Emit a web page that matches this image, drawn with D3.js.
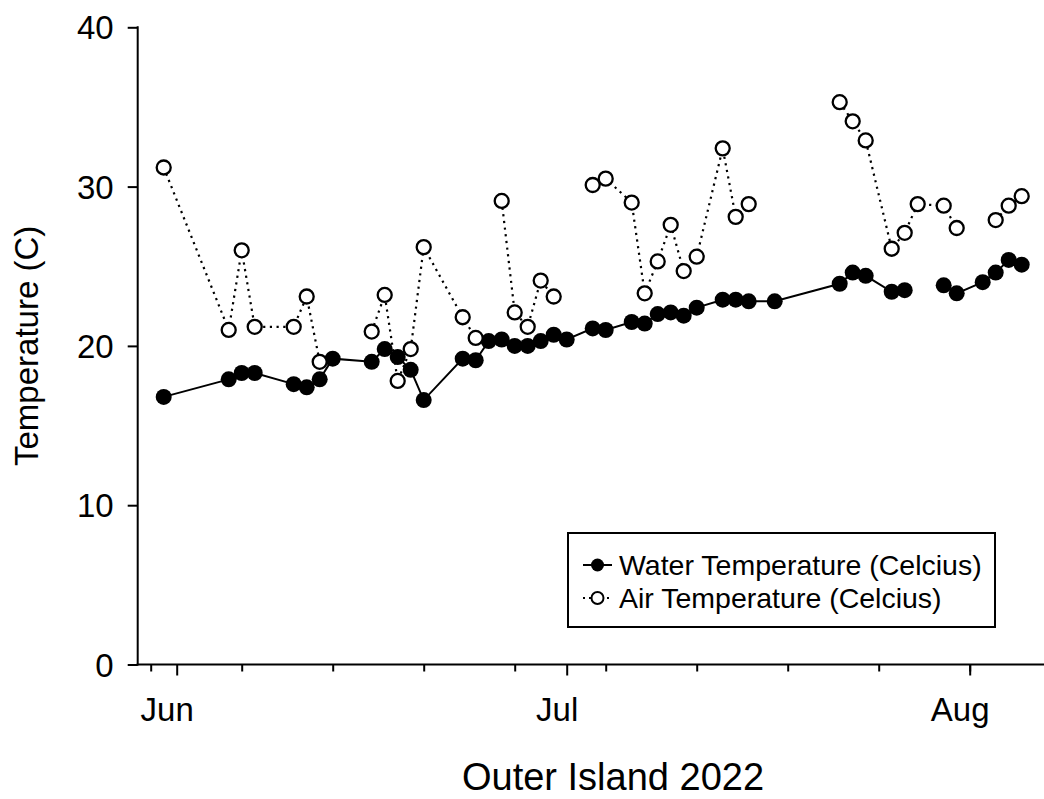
<!DOCTYPE html>
<html>
<head>
<meta charset="utf-8">
<script src="https://cdn.jsdelivr.net/npm/d3@7/dist/d3.min.js"></script>
<style>
  html, body { margin: 0; padding: 0; background: #fff; }
  svg { display: block; }
  text { font-family: "Liberation Sans", Arial, sans-serif; fill: #000; }
</style>
</head>
<body>
<svg id="chart" width="1044" height="799"></svg>
<script>
// ---- Data ----
const dates = ["2022-05-31","2022-06-05","2022-06-06","2022-06-07","2022-06-10","2022-06-11","2022-06-12","2022-06-13",
  "2022-06-16","2022-06-17","2022-06-18","2022-06-19","2022-06-20","2022-06-23","2022-06-24","2022-06-25",
  "2022-06-26","2022-06-27","2022-06-28","2022-06-29","2022-06-30","2022-07-01","2022-07-03","2022-07-04",
  "2022-07-06","2022-07-07","2022-07-08","2022-07-09","2022-07-10","2022-07-11","2022-07-13","2022-07-14",
  "2022-07-15","2022-07-17","2022-07-22","2022-07-23","2022-07-24","2022-07-26","2022-07-27","2022-07-28",
  "2022-07-30","2022-07-31","2022-08-02","2022-08-03","2022-08-04","2022-08-05"];
const waterTemp = [16.8,17.9,18.3,18.3,17.6,17.4,17.9,19.2,
  19.0,19.8,19.3,18.5,16.6,19.2,19.1,20.3,
  20.4,20.0,20.0,20.3,20.7,20.4,21.1,21.0,
  21.5,21.4,22.0,22.1,21.9,22.4,22.9,22.9,
  22.8,22.8,23.9,24.6,24.4,23.4,23.5,null,
  23.8,23.3,24.0,24.6,25.4,25.1];
const airTemp = [31.2,21.0,26.0,21.2,21.2,23.1,19.0,null,
  20.9,23.2,17.8,19.8,26.2,21.8,20.5,null,
  29.1,22.1,21.2,24.1,23.1,null,30.1,30.5,
  29.0,23.3,25.3,27.6,24.7,25.6,32.4,28.1,
  28.9,null,35.3,34.1,32.9,26.1,27.1,28.9,
  28.8,27.4,null,27.9,28.8,29.4];
const seriesNames = ["Water Temperature (Celcius)", "Air Temperature (Celcius)"];
const monthLabels = ["Jun", "Jul", "Aug"];
const yTicks = [0, 10, 20, 30, 40];
const xTitle = "Outer Island 2022";
const yTitle = "Temperature (C)";

(function () {
const parse = d3.utcParse("%Y-%m-%d");
const rows = dates.map((d, i) => ({ date: parse(d), water: waterTemp[i], air: airTemp[i] }));

const svg = d3.select("#chart");
const pLeft = 137.7, pBottom = 664.5, pTop = 27.3;
const x = d3.scaleUtc()
  .domain([Date.UTC(2022, 4, 29), Date.UTC(2022, 7, 8)])
  .range([pLeft, pLeft + 71 * 13]);
const y = d3.scaleLinear().domain([0, 40]).range([pBottom, pTop]);

// Axes
const yAxis = d3.axisLeft(y).tickValues(yTicks).tickSize(10).tickPadding(14).tickFormat(d3.format("d"));
const gy = svg.append("g").attr("transform", `translate(${pLeft},0)`).call(yAxis);
gy.select(".domain").remove();
gy.selectAll(".tick line").attr("stroke", "#000").attr("stroke-width", 2);
gy.selectAll(".tick text").style("font-size", "33px").attr("dy", "0.35em");
svg.append("line").attr("x1", pLeft).attr("x2", pLeft).attr("y1", pTop - 1).attr("y2", pBottom + 1)
  .attr("stroke", "#000").attr("stroke-width", 2);

const monthTicks = x.ticks(d3.utcMonth).filter(d => d >= x.domain()[0]);
const minorTicks = x.ticks(d3.utcMonday);
const gxMinor = svg.append("g").attr("transform", `translate(0,${pBottom})`)
  .call(d3.axisBottom(x).tickValues(minorTicks).tickSize(7).tickFormat(""));
gxMinor.select(".domain").remove();
gxMinor.selectAll(".tick line").attr("stroke", "#000").attr("stroke-width", 2);
const gxMajor = svg.append("g").attr("transform", `translate(0,${pBottom})`)
  .call(d3.axisBottom(x).tickValues(monthTicks).tickSize(11).tickPadding(22)
    .tickFormat((d, i) => monthLabels[i]));
gxMajor.select(".domain").remove();
gxMajor.selectAll(".tick line").attr("stroke", "#000").attr("stroke-width", 2);
gxMajor.selectAll(".tick text").style("font-size", "33px").attr("x", -10);
svg.append("line").attr("x1", pLeft - 1).attr("x2", 1044).attr("y1", pBottom).attr("y2", pBottom)
  .attr("stroke", "#000").attr("stroke-width", 2);

// Titles
svg.append("text").attr("x", 613).attr("y", 790).attr("text-anchor", "middle")
  .style("font-size", "38px").text(xTitle);
svg.append("text").attr("transform", `translate(38,${(pTop + pBottom) / 2}) rotate(-90)`)
  .attr("text-anchor", "middle").style("font-size", "33px").text(yTitle);

// Lines
const waterLine = d3.line().defined(d => d.water != null).x(d => x(d.date)).y(d => y(d.water));
const airLine = d3.line().defined(d => d.air != null).x(d => x(d.date)).y(d => y(d.air));
svg.append("path").datum(rows).attr("d", airLine).attr("fill", "none")
  .attr("stroke", "#000").attr("stroke-width", 2.2).attr("stroke-dasharray", "2.2,4.5");
svg.append("path").datum(rows).attr("d", waterLine).attr("fill", "none")
  .attr("stroke", "#000").attr("stroke-width", 2);

// Markers
svg.append("g").selectAll("circle").data(rows.filter(d => d.water != null)).join("circle")
  .attr("cx", d => x(d.date)).attr("cy", d => y(d.water)).attr("r", 8).attr("fill", "#000");
svg.append("g").selectAll("circle").data(rows.filter(d => d.air != null)).join("circle")
  .attr("cx", d => x(d.date)).attr("cy", d => y(d.air)).attr("r", 7)
  .attr("fill", "#fff").attr("stroke", "#000").attr("stroke-width", 2.3);

// Legend
const lg = svg.append("g");
lg.append("rect").attr("x", 568).attr("y", 533).attr("width", 427).attr("height", 94)
  .attr("fill", "#fff").attr("stroke", "#000").attr("stroke-width", 2);
const rowsY = [565, 598];
lg.append("line").attr("x1", 583).attr("x2", 612).attr("y1", rowsY[0]).attr("y2", rowsY[0])
  .attr("stroke", "#000").attr("stroke-width", 2);
lg.append("circle").attr("cx", 597.5).attr("cy", rowsY[0]).attr("r", 6.5).attr("fill", "#000");
lg.append("line").attr("x1", 583).attr("x2", 612).attr("y1", rowsY[1]).attr("y2", rowsY[1])
  .attr("stroke", "#000").attr("stroke-width", 2).attr("stroke-dasharray", "2,4");
lg.append("circle").attr("cx", 597.5).attr("cy", rowsY[1]).attr("r", 6).attr("fill", "#fff")
  .attr("stroke", "#000").attr("stroke-width", 2);
seriesNames.forEach((s, i) => {
  lg.append("text").attr("x", 619).attr("y", rowsY[i]).attr("dy", "0.36em")
    .style("font-size", "28.5px").text(s);
});
})();
</script>
</body>
</html>
